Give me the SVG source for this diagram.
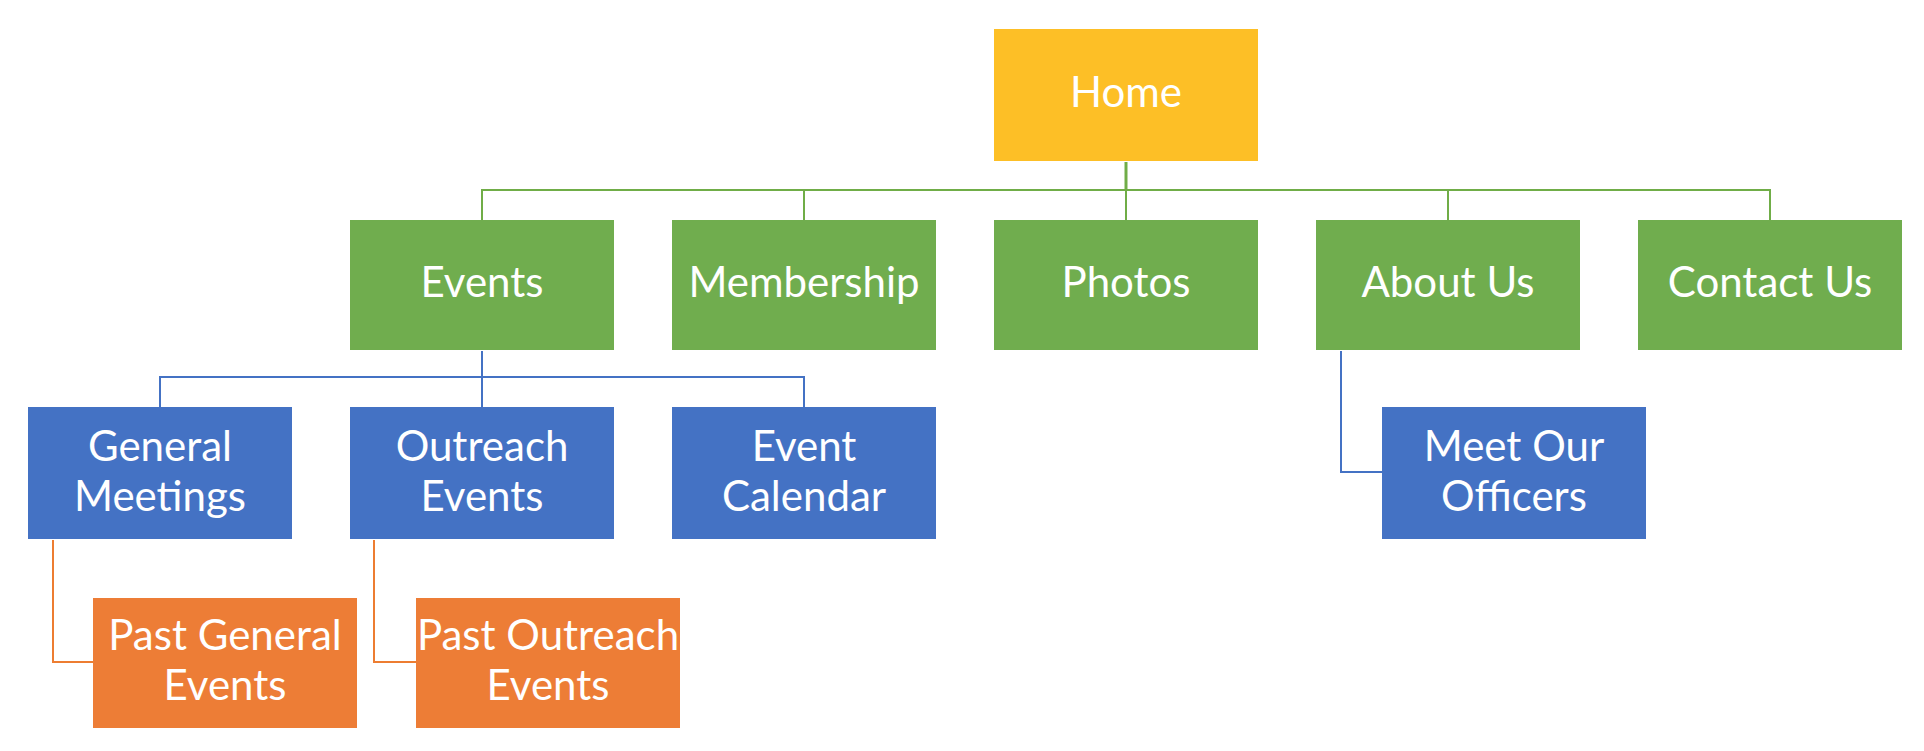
<svg xmlns="http://www.w3.org/2000/svg" width="1924" height="751" viewBox="0 0 1924 751">
  <style>
    .lbl { font-family: Lato, "Open Sans", "Liberation Sans", sans-serif; font-size: 42px; fill: #ffffff; text-anchor: middle; }
    .home { fill: #FDBF26; }
    .l2 { fill: #70AD4E; }
    .l3 { fill: #4472C4; }
    .l4 { fill: #ED7D36; }
    .cg { stroke: #70AD47; stroke-width: 2; fill: none; }
    .cb { stroke: #4472C4; stroke-width: 2; fill: none; }
    .co { stroke: #ED7D31; stroke-width: 2; fill: none; }
  </style>

  <!-- connectors -->
  <g id="connectors">
    <line x1="1126" y1="162" x2="1126" y2="191" stroke="#70AD47" stroke-width="3"/>
    <path class="cg" d="M482,220 V190 H1770 V220 M804,190 V220 M1126,190 V220 M1448,190 V220"/>
    <path class="cb" d="M482,351 V377 M160,407 V377 H804 V407 M482,377 V407"/>
    <path class="cb" d="M1341,351 V472 H1382"/>
    <path class="co" d="M53,540 V662 H93"/>
    <path class="co" d="M374,540 V662 H416"/>
  </g>

  <g id="home">
    <rect class="home" x="994" y="29" width="264" height="132"/>
    <text class="lbl" x="1126" y="107">Home</text>
  </g>

  <g id="events">
    <rect class="l2" x="350" y="220" width="264" height="130"/>
    <text class="lbl" x="482" y="297">Events</text>
  </g>
  <g id="membership">
    <rect class="l2" x="672" y="220" width="264" height="130"/>
    <text class="lbl" x="804" y="297">Membership</text>
  </g>
  <g id="photos">
    <rect class="l2" x="994" y="220" width="264" height="130"/>
    <text class="lbl" x="1126" y="297">Photos</text>
  </g>
  <g id="about-us">
    <rect class="l2" x="1316" y="220" width="264" height="130"/>
    <text class="lbl" x="1448" y="297">About Us</text>
  </g>
  <g id="contact-us">
    <rect class="l2" x="1638" y="220" width="264" height="130"/>
    <text class="lbl" x="1770" y="297">Contact Us</text>
  </g>

  <g id="general-meetings">
    <rect class="l3" x="28" y="407" width="264" height="132"/>
    <text class="lbl" x="160" y="461">General</text>
    <text class="lbl" x="160" y="511">Meetings</text>
  </g>
  <g id="outreach-events">
    <rect class="l3" x="350" y="407" width="264" height="132"/>
    <text class="lbl" x="482" y="461">Outreach</text>
    <text class="lbl" x="482" y="511">Events</text>
  </g>
  <g id="event-calendar">
    <rect class="l3" x="672" y="407" width="264" height="132"/>
    <text class="lbl" x="804" y="461">Event</text>
    <text class="lbl" x="804" y="511">Calendar</text>
  </g>
  <g id="meet-our-officers">
    <rect class="l3" x="1382" y="407" width="264" height="132"/>
    <text class="lbl" x="1514" y="461">Meet Our</text>
    <text class="lbl" x="1514" y="511">Officers</text>
  </g>

  <g id="past-general-events">
    <rect class="l4" x="93" y="598" width="264" height="130"/>
    <text class="lbl" x="225" y="650">Past General</text>
    <text class="lbl" x="225" y="700">Events</text>
  </g>
  <g id="past-outreach-events">
    <rect class="l4" x="416" y="598" width="264" height="130"/>
    <text class="lbl" x="548" y="650">Past Outreach</text>
    <text class="lbl" x="548" y="700">Events</text>
  </g>
</svg>
